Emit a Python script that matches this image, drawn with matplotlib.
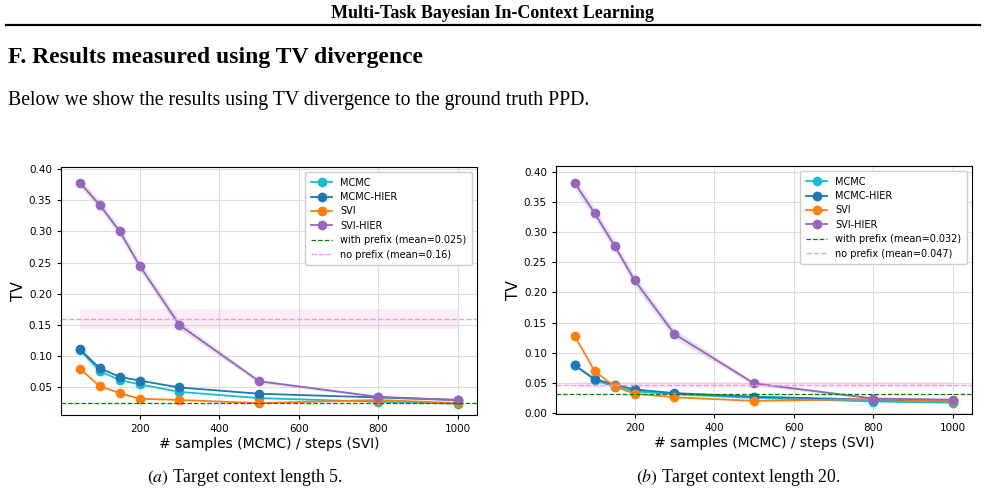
import numpy as np
import matplotlib.pyplot as plt

# x positions shared by both panels
steps = [50, 100, 150, 200, 300, 500, 800, 1000]

# (a) target context length 5
a_mcmc = [0.110, 0.076, 0.062, 0.055, 0.043, 0.033, 0.027, 0.024]
a_mcmc_hier = [0.111, 0.081, 0.067, 0.061, 0.050, 0.040, 0.034, 0.030]
a_svi = [0.080, 0.052, 0.041, 0.032, 0.030, 0.025, 0.030, 0.025]
a_svi_hier = [0.378, 0.342, 0.300, 0.245, 0.150, 0.060, 0.035, 0.030]
a_svi_hier_sd = [0.007, 0.007, 0.008, 0.008, 0.007, 0.003, 0.002, 0.002]
a_with_prefix, a_no_prefix, a_no_prefix_sd = 0.025, 0.16, 0.016

# (b) target context length 20
b_mcmc = [0.079, 0.055, 0.043, 0.036, 0.031, 0.025, 0.019, 0.017]
b_mcmc_hier = [0.079, 0.056, 0.047, 0.039, 0.033, 0.027, 0.022, 0.020]
b_svi = [0.127, 0.069, 0.044, 0.032, 0.026, 0.020, 0.023, 0.020]
b_svi_hier = [0.381, 0.331, 0.277, 0.220, 0.131, 0.049, 0.024, 0.022]
b_svi_hier_sd = [0.010, 0.009, 0.009, 0.009, 0.008, 0.003, 0.002, 0.002]
b_with_prefix, b_no_prefix, b_no_prefix_sd = 0.032, 0.047, 0.005

W, H = 985, 504
fig = plt.figure(figsize=(W / 100, H / 100), dpi=100)
serif = ['Liberation Serif', 'DejaVu Serif']


def px_axes(x0, y0, x1, y1):
    return fig.add_axes([x0 / W, 1 - y1 / H, (x1 - x0) / W, (y1 - y0) / H])


def panel(ax, mcmc, mcmc_hier, svi, svi_hier, svi_hier_sd, wp, npf, npf_sd):
    x = np.array(steps)
    kw = dict(marker='o', markersize=6, lw=1.3)
    for y, c, lab in [(mcmc, '#17becf', 'MCMC'), (mcmc_hier, '#1f77b4', 'MCMC-HIER'),
                      (svi, '#ff7f0e', 'SVI'), (svi_hier, '#9467bd', 'SVI-HIER')]:
        ax.plot(x, y, color=c, label=lab, **kw)
    y = np.array(svi_hier)
    sd = np.array(svi_hier_sd)
    ax.fill_between(x, y - sd, y + sd, color='#9467bd', alpha=0.2, lw=0)
    ax.axhline(wp, color='green', ls='--', lw=0.9, label=f'with prefix (mean={wp})')
    ax.axhline(npf, color='#f09ad8', ls='--', lw=1.0, label=f'no prefix (mean={npf})')
    ax.fill_between(x[[0, -1]], npf - npf_sd, npf + npf_sd, color='#e377c2', alpha=0.12, lw=0)
    ax.grid(True, color='#dddddd', lw=0.8)
    ax.set_axisbelow(True)
    ax.set_xticks([200, 400, 600, 800, 1000])
    ax.tick_params(labelsize=7.5, length=3)
    ax.set_ylabel('TV', fontsize=11, labelpad=2)
    ax.set_xlabel('# samples (MCMC) / steps (SVI)', fontsize=10, labelpad=2)
    ax.legend(loc='upper right', fontsize=7, handlelength=2.2, borderpad=0.6,
              labelspacing=0.45, framealpha=1)


ax1 = px_axes(61, 167, 477, 415)
panel(ax1, a_mcmc, a_mcmc_hier, a_svi, a_svi_hier, a_svi_hier_sd,
      a_with_prefix, a_no_prefix, a_no_prefix_sd)
ax1.set_yticks(np.arange(0.05, 0.41, 0.05))

ax2 = px_axes(556, 166, 972, 414)
panel(ax2, b_mcmc, b_mcmc_hier, b_svi, b_svi_hier, b_svi_hier_sd,
      b_with_prefix, b_no_prefix, b_no_prefix_sd)
ax2.set_yticks(np.arange(0.0, 0.41, 0.05))

# page text around the figure
fig.text(492 / W, 1 - 13 / H, 'Multi-Task Bayesian In-Context Learning', family=serif,
         weight='bold', fontsize=13, ha='center', va='center')
fig.add_artist(plt.Line2D([6 / W, 980 / W], [1 - 25 / H, 1 - 25 / H], color='black', lw=1.6))
fig.text(8 / W, 1 - 58 / H, 'F. Results measured using TV divergence', family=serif,
         weight='bold', fontsize=17, ha='left', va='center')
fig.text(8 / W, 1 - 100 / H, 'Below we show the results using TV divergence to the ground truth PPD.',
         family=serif, fontsize=14.2, ha='left', va='center')
fig.text(245 / W, 1 - 477 / H, r'$\it{(a)}$ Target context length 5.', family=serif,
         fontsize=12.8, ha='center', va='center', math_fontfamily='stix')
fig.text(738 / W, 1 - 477 / H, r'$\it{(b)}$ Target context length 20.', family=serif,
         fontsize=12.8, ha='center', va='center', math_fontfamily='stix')

fig.savefig('out.png', dpi=100)
